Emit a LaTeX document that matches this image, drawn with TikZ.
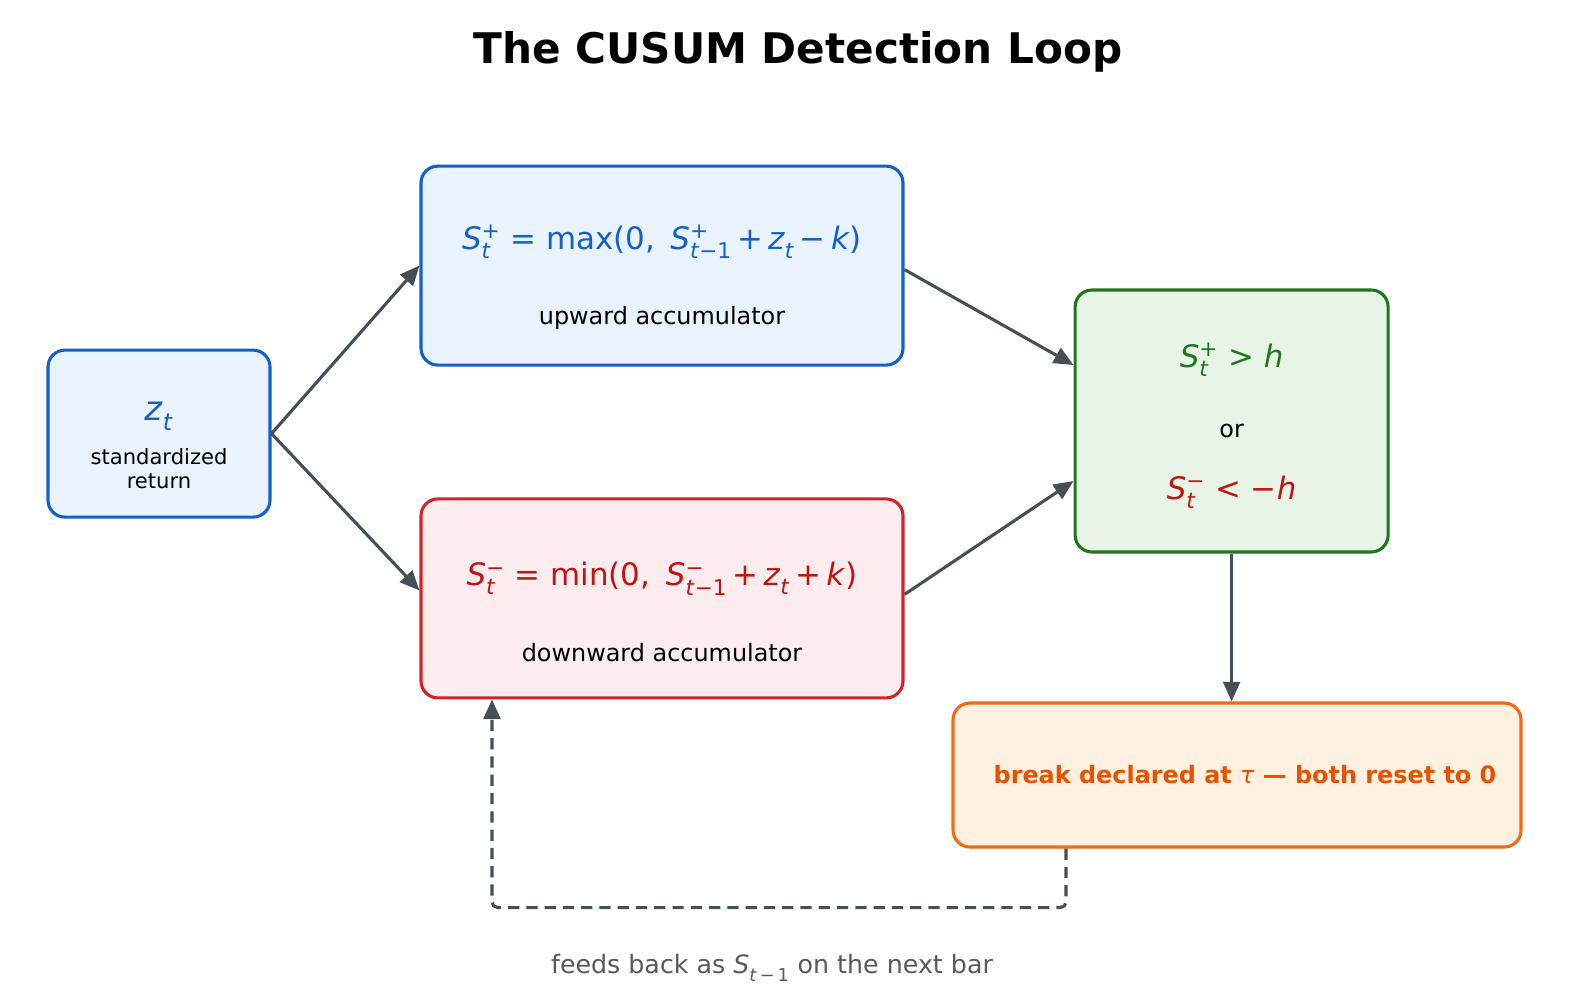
\documentclass[tikz,border=0pt]{standalone}
\usepackage{fontspec}
\setmainfont{DejaVu Sans}
\usepackage{amsmath}
\usetikzlibrary{arrows.meta}
\definecolor{upline}{RGB}{21,96,200}
\definecolor{upfill}{RGB}{233,243,253}
\definecolor{downline}{RGB}{208,36,40}
\definecolor{downfill}{RGB}{253,236,238}
\definecolor{downtext}{RGB}{190,20,20}
\definecolor{testline}{RGB}{30,118,30}
\definecolor{testfill}{RGB}{232,244,229}
\definecolor{brkline}{RGB}{242,104,20}
\definecolor{brkfill}{RGB}{254,241,225}
\definecolor{brktext}{RGB}{230,82,0}
\definecolor{arrcol}{RGB}{69,79,87}
\newcommand{\mv}[1]{\textit{#1}}
\newcommand{\scr}[2]{$^{\text{#1}}_{\text{#2}}$}

\begin{document}
\begin{tikzpicture}[
  every node/.style={font=\fontsize{17}{20}\selectfont},
  box/.style={rounded corners=12pt, line width=2.2pt, align=center, inner sep=0pt},
  acc/.style={box, minimum width=12.05cm, minimum height=4.975cm},
  arr/.style={-{Triangle[length=14pt,width=12pt]}, line width=2.2pt, arrcol},
  darr/.style={arr, dashed, dash pattern=on 8pt off 5pt}
]
\useasboundingbox (0,0) rectangle (39.225,-25.05);

% ---------------- title ----------------
\node[font=\fontsize{30}{34}\selectfont\bfseries] (title) at (19.95,-1.3) {The CUSUM Detection Loop};

% ---------------- input ----------------
\node[box, draw=upline, fill=upfill, minimum width=5.55cm, minimum height=4.175cm] (zt) at (3.975,-10.84)
  {\rule{0pt}{30pt}{\fontsize{24}{26}\selectfont\color{upline}\mv{z}\scr{}{\mv{t}}}\\[11pt]
   {\fontsize{15}{18}\selectfont standardized}\\[-3pt]
   {\fontsize{15}{18}\selectfont return}};

% ---------------- accumulators ----------------
\node[acc, draw=upline, fill=upfill] (up) at (16.55,-6.64)
  {\rule{0pt}{34pt}{\fontsize{22}{26}\selectfont\color{upline}\mv{S}\scr{+}{\mv{t}} = max(0,\enspace\mv{S}\scr{+}{\mv{t}−1}\,+\,\mv{z}\scr{}{\mv{t}}\,−\,\mv{k})}\\[34pt]
   upward accumulator};
\node[acc, draw=downline, fill=downfill] (down) at (16.55,-14.96)
  {\rule{0pt}{36pt}{\fontsize{22}{26}\selectfont\color{downtext}\mv{S}\scr{−}{\mv{t}}\ = min(0,\enspace\mv{S}\scr{−}{\mv{t}−1}\,+\,\mv{z}\scr{}{\mv{t}}\,+\,\mv{k})}\\[34pt]
   downward accumulator};

% ---------------- threshold test ----------------
\node[box, draw=testline, fill=testfill, minimum width=7.825cm, minimum height=6.55cm] (test) at (30.79,-10.525)
  {\rule{0pt}{24pt}{\fontsize{22}{26}\selectfont\color{testline}\mv{S}\scr{+}{\mv{t}}\ > \mv{h}}\\[30pt]
   or\\[24pt]
   {\fontsize{22}{26}\selectfont\color{downtext}\mv{S}\scr{−}{\mv{t}}\ < −\mv{h}}};

% ---------------- break ----------------
\node[box, draw=brkline, fill=brkfill, minimum width=14.2cm, minimum height=3.6cm] (brk) at (30.925,-19.375)
  {\hspace*{0.4cm}{\bfseries\color{brktext} break declared at {\mdseries\itshape τ} — both reset to 0}};

% ---------------- arrows ----------------
\draw[arr] (zt.east) -- (up.west);
\draw[arr] (zt.east) -- ([yshift=0.2cm]down.west);
\draw[arr] ([yshift=-0.1cm]up.east) -- ([yshift=1.4cm]test.west);
\draw[arr] ([yshift=0.1cm]down.east) -- ([yshift=-1.5cm]test.west);
\draw[arr] (test.south) -- (test.south |- brk.north);
\draw[darr, rounded corners=4pt] ([xshift=-4.275cm]brk.south) -- ++(0,-1.475) -| ([xshift=-4.25cm]down.south);

% note under the loop
\node[text=black!65, font=\fontsize{18}{21}\selectfont] (fb) at (19.3,-24.2) {feeds back as \mv{S}\scr{}{\mv{t}\,−\,1} on the next bar};

\end{tikzpicture}
\end{document}
